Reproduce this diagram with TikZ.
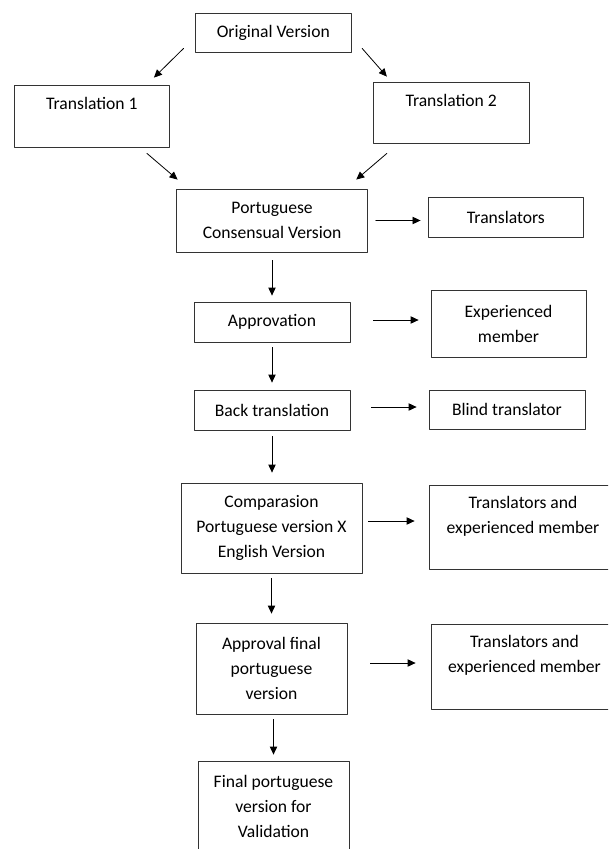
\documentclass[tikz,border=0pt]{standalone}
\usepackage{fontspec}
\setmainfont{Carlito}
\usetikzlibrary{arrows.meta,calc}

\begin{document}
\begin{tikzpicture}[x=0.75pt, y=-0.75pt, line cap=round, line join=round, >={Triangle[length=6pt,width=5.5pt]}]
\tikzset{stage/.style={draw=black!80, line width=0.6pt, align=center, inner sep=0pt, font=\fontsize{13.2}{18.75}\selectfont},
  flow/.style={->, line width=0.6pt}}

\useasboundingbox (0,0) rectangle (608,849);
\clip (0,0) rectangle (608,849);

% translation stage (px)
\node[stage, minimum width=116.9pt, minimum height=29.25pt] (OV) at (273.3,32.5) {Original Version};
\node[stage, minimum width=116.9pt, minimum height=46.5pt] (T1) at (91.9,116) {Translation 1\\ \mbox{}};
\node[stage, minimum width=116.9pt, minimum height=45.75pt] (T2) at (451.2,112.5) {Translation 2\\ \mbox{}};
\node[stage, minimum width=143pt, minimum height=47.25pt] (PCV) at (272.1,220.5) {Portuguese\\Consensual Version};
\node[stage, minimum width=116.9pt, minimum height=30pt] (Tr) at (505.9,217) {Translators};

% main chain
\node[stage, minimum width=117pt, minimum height=30pt] (Appr) at (272,322) {Approvation};
\node[stage, minimum width=117pt, minimum height=30pt] (Back) at (272,410) {Back translation};
\node[stage, minimum width=135.75pt, minimum height=67.5pt] (Comp) at (271.5,528) {Comparasion\\Portuguese version X\\English Version};
\node[stage, minimum width=113.25pt, minimum height=68.25pt] (AF) at (271.5,668.5) {Approval final\\portuguese\\version};
\node[stage, minimum width=113.25pt, minimum height=67.5pt] (Final) at (273.5,806) {Final portuguese\\version for\\Validation};

% who does it
\node[stage, minimum width=116.25pt, minimum height=50.25pt] (Exp) at (508.5,323.5) {Experienced\\member};
\node[stage, minimum width=117pt, minimum height=29.25pt] (Blind) at (507,409.5) {Blind translator};
\node[stage, minimum width=141pt, minimum height=63pt] (TE1) at (523,527) {Translators and\\experienced member\\ \mbox{}};
\node[stage, minimum width=140.25pt, minimum height=63.75pt] (TE2) at (524.5,666.5) {Translators and\\experienced member\\ \mbox{}};

% arrows
\draw[flow] ($(OV.south west)+(-11.4,-4)$) -- ($(T1.north east)+(-16.3,-7)$);
\draw[flow] ($(OV.south east)+(10.5,-4)$) -- ($(T2.north west)+(14,-5)$);
\draw[flow] ($(T1.south east)+(-23.3,6)$) -- ($(PCV.north west)+(1.2,-9)$);
\draw[flow] ($(T2.south west)+(14,10)$) -- ($(PCV.north east)+(-11.6,-9)$);

\draw[flow, shorten <=6pt, shorten >=4.5pt] (PCV.south -| Appr.north) -- (Appr.north);
\draw[flow, shorten <=3.75pt, shorten >=5.25pt] (Appr.south) -- (Back.north);
\draw[flow, shorten <=4.5pt, shorten >=7.5pt] (Back.south) -- (Back.south |- Comp.north);
\draw[flow, shorten <=3.75pt, shorten >=6.75pt] (Comp.south) -- (AF.north);
\draw[flow, shorten <=3.75pt, shorten >=4.5pt] (AF.south -| Final.north) -- (Final.north);

\draw[flow, shorten <=6pt, shorten >=5.25pt] (PCV.east) -- (PCV.east -| Tr.west);
\draw[flow, shorten <=17.25pt, shorten >=9pt] ($(Appr.east)+(0,-2)$) -- ($(Appr.east -| Exp.west)+(0,-2)$);
\draw[flow, shorten <=15.75pt, shorten >=9pt] ($(Back.east)+(0,-3)$) -- ($(Back.east -| Blind.west)+(0,-3)$);
\draw[flow, shorten <=4.5pt, shorten >=10.5pt] ($(Comp.east)+(0,-7)$) -- ($(Comp.east -| TE1.west)+(0,-7)$);
\draw[flow, shorten <=17.25pt, shorten >=11.25pt] ($(AF.east)+(0,-5.5)$) -- ($(AF.east -| TE2.west)+(0,-5.5)$);
\end{tikzpicture}
\end{document}
